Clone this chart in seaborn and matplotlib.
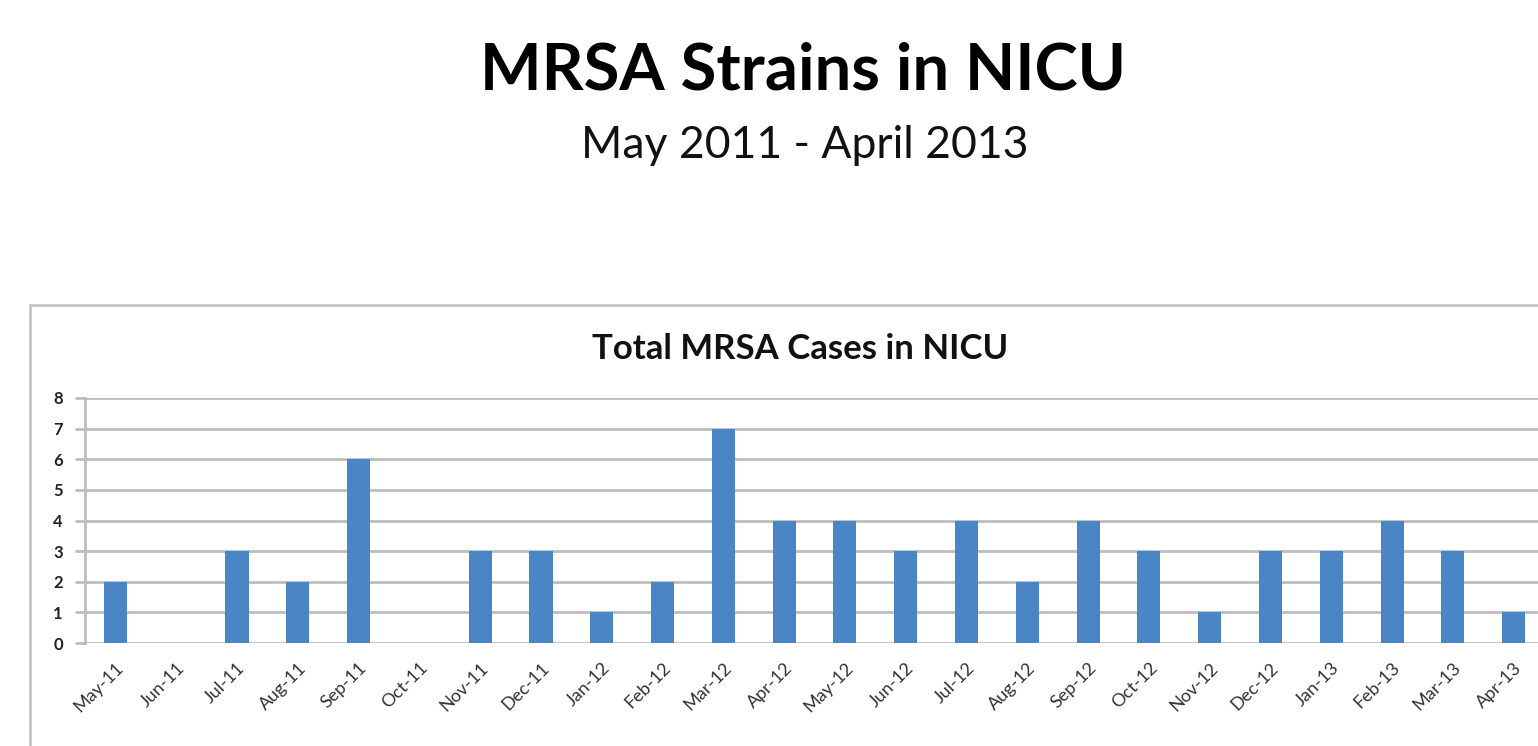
import matplotlib
matplotlib.use("Agg")
import matplotlib.pyplot as plt
import seaborn as sns
import pandas as pd
from matplotlib.patches import Rectangle

MONTHS = ["May-11", "Jun-11", "Jul-11", "Aug-11", "Sep-11", "Oct-11", "Nov-11", "Dec-11",
          "Jan-12", "Feb-12", "Mar-12", "Apr-12", "May-12", "Jun-12", "Jul-12", "Aug-12",
          "Sep-12", "Oct-12", "Nov-12", "Dec-12", "Jan-13", "Feb-13", "Mar-13", "Apr-13"]
CASES = [2, 0, 3, 2, 6, 0, 3, 3, 1, 2, 7, 4, 4, 3, 4, 2, 4, 3, 1, 3, 3, 4, 3, 1]
Y_TICKS = list(range(0, 9))

BAR_COLOR = "#4a85c6"
GRID_COLOR = "#bdbdbd"

sns.set_theme(style="white")
plt.rcParams["font.family"] = ["Lato", "DejaVu Sans"]

df = pd.DataFrame({"month": MONTHS, "cases": CASES})

fig = plt.figure(figsize=(15.38, 7.46), dpi=100)
fig.patch.set_facecolor("white")

# chart frame (runs off the right and bottom edges)
frame = Rectangle((30 / 1538, -0.05), 1.1, 0.05 + (746 - 305) / 746,
                  transform=fig.transFigure, fill=False,
                  edgecolor="#c4c4c4", linewidth=2, zorder=0)
fig.patches.append(frame)

fig.text(0.522, 0.905, "MRSA Strains in NICU", ha="center", va="center",
         fontsize=47, fontweight="bold", color="black")
fig.text(0.523, 0.805, "May 2011 - April 2013", ha="center", va="center",
         fontsize=32, color="#111111")
fig.text(0.520, 0.532, "Total MRSA Cases in NICU", ha="center", va="center",
         fontsize=25, fontweight="bold", color="#111111")

ax = fig.add_axes([85 / 1538, 103 / 746, 1 - 85 / 1538, 245 / 746])
sns.barplot(data=df, x="month", y="cases", color=BAR_COLOR, width=0.38,
            saturation=1, linewidth=0, ax=ax, zorder=3)

ax.set_xlim(-0.5, 23.4)
ax.set_ylim(0, 8)
ax.set_yticks(Y_TICKS)
ax.yaxis.grid(True, color=GRID_COLOR, linewidth=2, zorder=0)
ax.set_axisbelow(True)
for side in ["top", "right", "bottom"]:
    ax.spines[side].set_visible(False)
ax.spines["left"].set_color(GRID_COLOR)
ax.spines["left"].set_linewidth(2)
ax.tick_params(axis="y", which="major", length=7, width=2, color=GRID_COLOR,
               direction="out", labelsize=12, labelcolor="#222222", left=True, pad=9)
ax.tick_params(axis="x", length=0, labelsize=13, labelcolor="#333333", pad=12)
ax.set_xticks(range(len(MONTHS)))
ax.set_xticklabels(MONTHS, rotation=45, ha="right", rotation_mode="anchor")
for lbl in ax.get_yticklabels():
    lbl.set_fontweight("bold")
ax.set_xlabel("")
ax.set_ylabel("")

fig.savefig("out.png", dpi=100, facecolor="white")
